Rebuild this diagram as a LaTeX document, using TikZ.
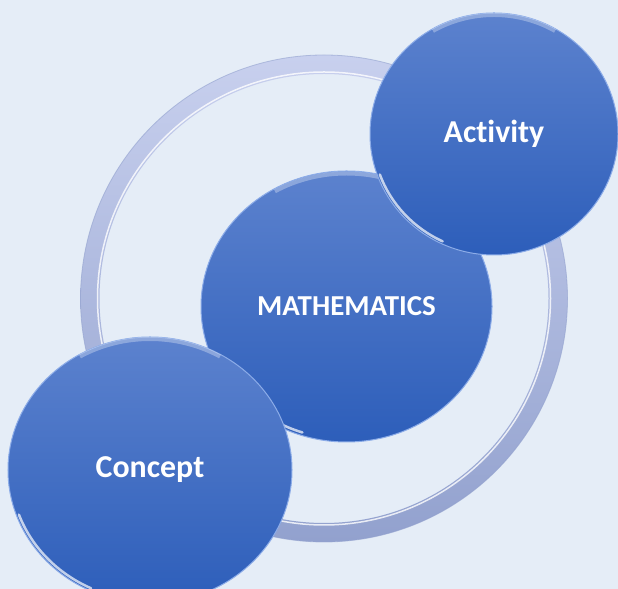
\documentclass[tikz,border=0pt]{standalone}
\usepackage{fontspec}
\newfontfamily\labelfont[Ligatures=NoCommon]{Carlito}
\definecolor{bgblue}{RGB}{229,237,247}
\definecolor{balltop}{RGB}{92,130,206}
\definecolor{ballbot}{RGB}{45,94,186}
\definecolor{ringtop}{RGB}{200,208,238}
\definecolor{ringbot}{RGB}{146,161,206}
\definecolor{rimblue}{RGB}{140,172,232}
\usetikzlibrary{shapes.geometric}
\tikzset{ball/.style={ellipse,inner sep=0pt,top color=balltop,bottom color=ballbot,draw=rimblue,line width=1bp,text=white,font=\labelfont\bfseries\fontsize{32}{36}\selectfont},
glint/.style={white,line width=2.5bp,opacity=.7,line cap=round},
sheen/.style={white,line width=4bp,opacity=.3}}

\begin{document}
\begin{tikzpicture}[x=1bp,y=1bp]
\useasboundingbox (0,0) rectangle (618,589);
\fill[bgblue] (0,0) rectangle (618,589);
\coordinate (hub) at (324,290.5);
\shade[even odd rule,top color=ringtop,bottom color=ringbot] (hub) circle (243.5) (hub) circle (224.5);
\draw[white,line width=1.5bp,opacity=.8] (hub) circle (226.5);
\draw[ringbot,line width=.8bp,opacity=.6] (hub) circle (243.5);

\node[ball,minimum width=291bp,minimum height=271bp,font=\labelfont\bfseries\fontsize{29}{33}\selectfont] (math) at (346.5,282.5) {MATHEMATICS};
\draw[glint] (math.center) ++(200:142.5 and 132.5) arc[start angle=200,end angle=252,x radius=142.5,y radius=132.5];
\draw[sheen] (math.center) ++(60:143 and 133) arc[start angle=60,end angle=120,x radius=143,y radius=133];

\node[ball,minimum width=248bp,minimum height=242bp] (activity) at (494,455) {Activity};
\draw[glint] (activity.center) ++(200:121.5 and 118.5) arc[start angle=200,end angle=245,x radius=121.5,y radius=118.5];
\draw[sheen] (activity.center) ++(60:122 and 119) arc[start angle=60,end angle=120,x radius=122,y radius=119];

\node[ball,minimum width=284bp,minimum height=266bp] (concept) at (150,119) {Concept};
\draw[glint] (concept.center) ++(200:139.5 and 130.5) arc[start angle=200,end angle=245,x radius=139.5,y radius=130.5];
\draw[sheen] (concept.center) ++(60:140 and 131) arc[start angle=60,end angle=120,x radius=140,y radius=131];
\end{tikzpicture}
\end{document}
